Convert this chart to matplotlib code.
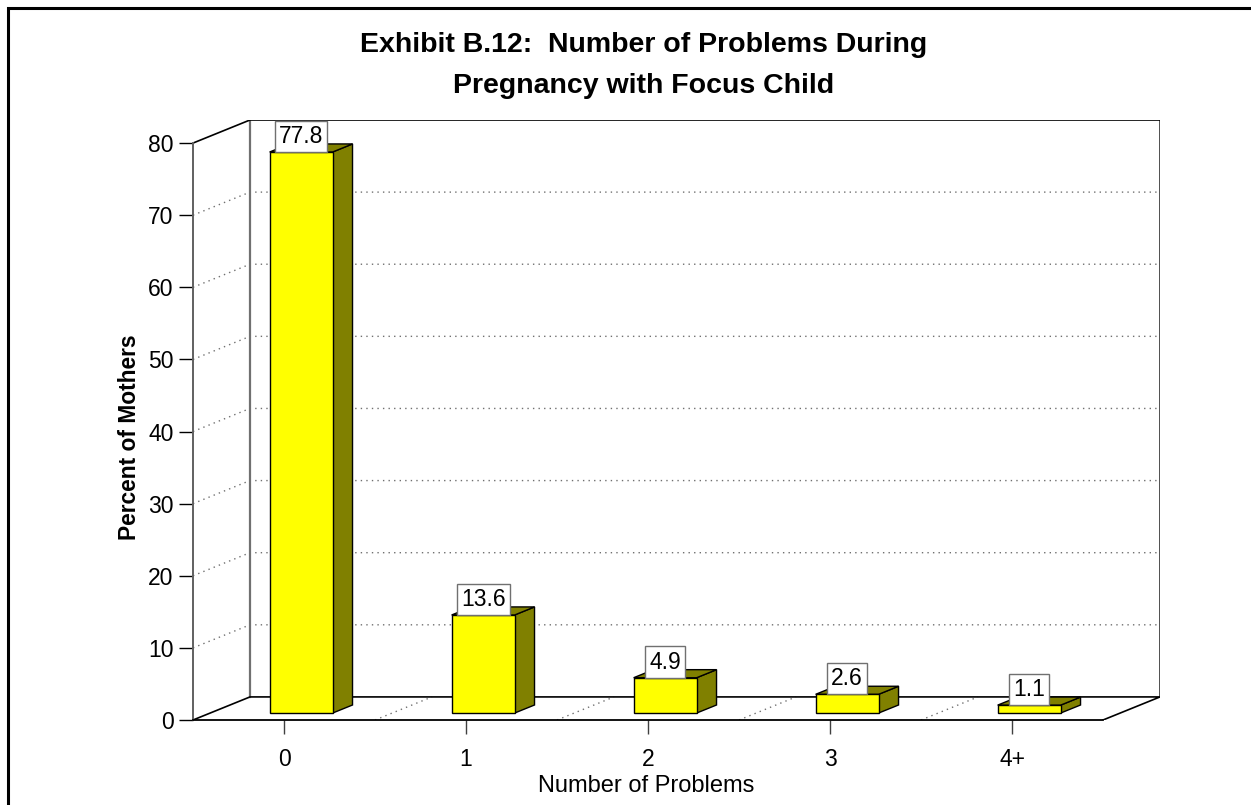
import numpy as np
import matplotlib.pyplot as plt
from matplotlib.patches import Polygon, Rectangle

plt.rcParams['font.family'] = ['Liberation Sans', 'DejaVu Sans']

categories = ["0", "1", "2", "3", "4+"]
values = [77.8, 13.6, 4.9, 2.6, 1.1]
yticks = [0, 10, 20, 30, 40, 50, 60, 70, 80]

# pseudo-3d depth of the chart box, in data units
DX, DY = 0.313, 3.2
# bar front sits 30% into the floor, bar depth 35%
F0, BD = 0.30, 0.35
W = 0.346

fig = plt.figure(figsize=(12.51, 8.05), dpi=100)
ax = fig.add_axes([193 / 1251, 85 / 805, 967 / 1251, 600 / 805])
ax.set_xlim(-0.5, 4.5 + DX)
ax.set_ylim(0, 80 + DY)
ax.patch.set_visible(False)

for s in ["top", "right"]:
    ax.spines[s].set_visible(False)
ax.spines["left"].set_bounds(0, 80)
ax.spines["left"].set_color("#606060")
ax.spines["left"].set_linewidth(1.4)
ax.spines["bottom"].set_bounds(-0.5, 4.5)
ax.spines["bottom"].set_linewidth(1.3)

ax.set_xticks(range(len(categories)))
ax.set_xticklabels(categories)
ax.set_yticks(yticks)
ax.tick_params(axis="both", length=10, width=1, labelsize=16.5, colors="black")
ax.tick_params(axis="x", pad=10, color="#404040")
ax.tick_params(axis="y", pad=4)

x0, x1 = -0.5, 4.5
line_kw = dict(color="black", lw=1.2, zorder=2)
grid_kw = dict(color="#707070", lw=1, ls=(0, (1, 3)), zorder=1)

# walls and floor
ax.plot([x0 + DX, x0 + DX], [DY, 80 + DY], color="#707070", lw=1.6, zorder=2)
ax.plot([x1 + DX, x1 + DX], [DY, 80 + DY], color="#505050", lw=1.4, zorder=2)
ax.plot([x0, x0 + DX, x1 + DX], [80, 80 + DY, 80 + DY], **line_kw)
ax.plot([x0, x0 + DX, x1 + DX, x1], [0, DY, DY, 0], **line_kw)
for v in yticks[1:-1]:
    ax.plot([x0, x0 + DX, x1 + DX], [v, v + DY, v + DY], **grid_kw)
for b in np.arange(0.5, 4.0, 1.0):
    ax.plot([b, b + DX], [0, DY], **grid_kw)

# bars
for i, v in enumerate(values):
    xl = i - W / 2 + F0 * DX
    xr = i + W / 2 + F0 * DX
    base = F0 * DY
    top = v + F0 * DY
    ddx, ddy = BD * DX, BD * DY
    side = Polygon([(xr, base), (xr + ddx, base + ddy), (xr + ddx, top + ddy), (xr, top)],
                   closed=True, fc="#808000", ec="black", lw=1, zorder=3)
    cap = Polygon([(xl, top), (xr, top), (xr + ddx, top + ddy), (xl + ddx, top + ddy)],
                  closed=True, fc="#808000", ec="black", lw=1, zorder=3)
    front = Rectangle((xl, base), W, v, fc="#FFFF00", ec="black", lw=1, zorder=4)
    ax.add_patch(side)
    ax.add_patch(cap)
    ax.add_patch(front)
    ax.annotate(f"{v:.1f}", xy=(i + F0 * DX, top), xytext=(0, 3), textcoords="offset points",
                ha="center", va="bottom", fontsize=16.5, zorder=5,
                bbox=dict(boxstyle="square,pad=0.18", fc="white", ec="#707070", lw=1))

# labels and title
fig.text(646 / 1251, 13 / 805, "Number of Problems", ha="center", va="baseline", fontsize=17)
fig.text(130 / 1251, 1 - 437 / 805, "Percent of Mothers", ha="center", va="center",
         rotation=90, fontsize=16.4, fontweight="bold")
fig.text(644 / 1251, 1 - 52 / 805, "Exhibit B.12:  Number of Problems During",
         ha="center", va="baseline", fontsize=20.5, fontweight="bold")
fig.text(644 / 1251, 1 - 93 / 805, "Pregnancy with Focus Child",
         ha="center", va="baseline", fontsize=20.5, fontweight="bold")

# outer frame (right and bottom edges fall outside the image)
fig.patches.append(Rectangle((8 / 1251, -0.5), 1.5, 1.5 - 8 / 805, transform=fig.transFigure,
                             fill=False, ec="black", lw=2.2))

fig.savefig("out.png", dpi=100)
